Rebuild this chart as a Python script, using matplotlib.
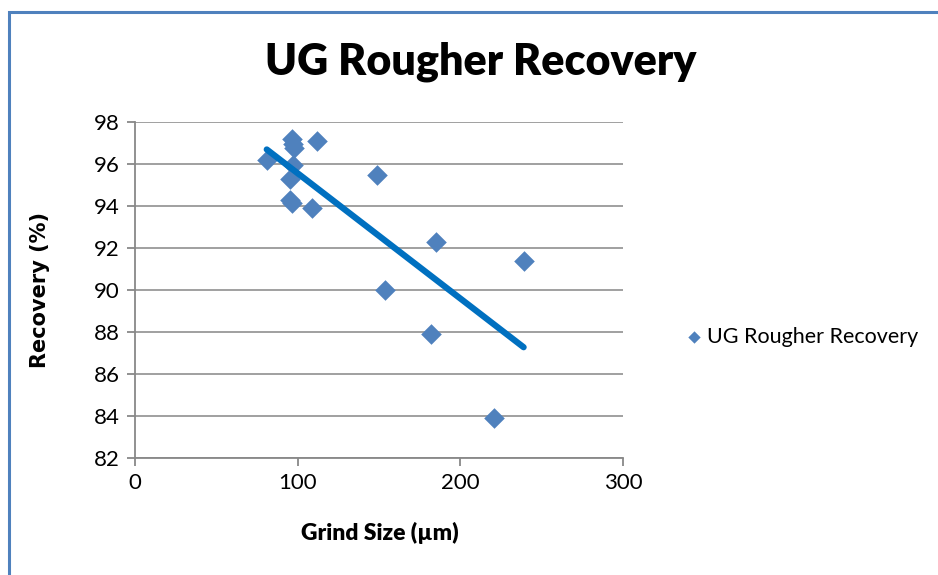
import numpy as np
import matplotlib.pyplot as plt
from matplotlib.patches import Rectangle

plt.rcParams['font.family'] = ['Lato', 'DejaVu Sans']

# grind size (um) and rougher recovery (%)
grind = [81, 96.5, 97.0, 97.5, 97.3, 95.3, 95.5, 96.5, 108.6, 111.7,
         148.5, 153.7, 181.9, 184.8, 220.8, 238.9]
recovery = [96.2, 97.2, 96.95, 96.75, 95.95, 95.3, 94.3, 94.15, 93.9, 97.1,
            95.5, 90.0, 87.9, 92.3, 83.9, 91.4]
x_ticks = [0, 100, 200, 300]
y_ticks = [82, 84, 86, 88, 90, 92, 94, 96, 98]

fig = plt.figure(figsize=(9.38, 5.75), dpi=100)
ax = fig.add_axes([0.1439, 0.2035, 0.5203, 0.5843])

# outer chart border
fig.patches.append(Rectangle((0.0096, -0.01), 1.0, 0.99, transform=fig.transFigure,
                             fill=False, edgecolor='#4f81bd', linewidth=2.2))

blue = '#4f81bd'
ax.scatter(grind, recovery, marker='D', s=110, color=blue, zorder=3,
           label='UG Rougher Recovery', linewidths=0)

# linear trendline across the data range
k, b = np.polyfit(grind, recovery, 1)
xt = np.array([min(grind), max(grind)])
ax.plot(xt, k * xt + b, color='#0070c0', linewidth=4.5, solid_capstyle='round', zorder=4)

ax.set_xlim(0, 300)
ax.set_ylim(82, 98)
ax.set_xticks(x_ticks)
ax.set_yticks(y_ticks)
ax.yaxis.grid(True, color='#999999', linewidth=1.3)
ax.set_axisbelow(True)
for s in ['top', 'right']:
    ax.spines[s].set_visible(False)
for s in ['left', 'bottom']:
    ax.spines[s].set_color('#888888')
    ax.spines[s].set_linewidth(1.3)
ax.tick_params(axis='both', labelsize=16, length=6, width=1.3, color='#888888', pad=5)

ax.set_xlabel('Grind Size (µm)', fontsize=16.5, fontweight='heavy')
ax.xaxis.set_label_coords(0.502, -0.19)
ax.set_ylabel('Recovery (%)', fontsize=15, fontweight='bold', family='DejaVu Sans')
ax.yaxis.set_label_coords(-0.175, 0.5)
fig.text(0.512, 0.892, 'UG Rougher Recovery', fontsize=31, fontweight='heavy',
         ha='center', va='center')

leg = fig.legend(loc='center left', bbox_to_anchor=(0.708, 0.414), frameon=False,
                 fontsize=15.5, handletextpad=0.1, handlelength=1.0, markerscale=0.6)

fig.savefig('out.png', dpi=100)
